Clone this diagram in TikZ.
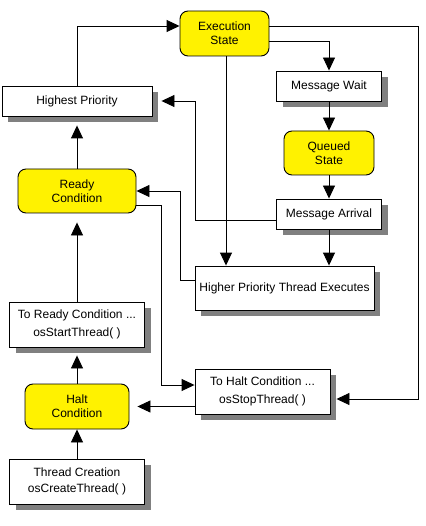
\documentclass[tikz,border=0pt]{standalone}
\usepackage{fontspec}
\setmainfont{Liberation Sans}
\usepackage{tikz}
\usetikzlibrary{arrows.meta,shadows}

\definecolor{shadowgray}{RGB}{128,128,128}
\tikzset{
  yellowbox/.style={draw, fill=yellow, rounded corners=8pt, align=center, inner sep=0pt, line width=0.9pt},
  whitebox/.style={draw, fill=white, align=center, inner sep=0pt, line width=0.9pt,
    drop shadow={shadow xshift=6pt, shadow yshift=-6pt, fill=shadowgray, opacity=1}},
  link/.style={-{Triangle[length=13pt,width=12pt]}, line width=0.9pt},
}

\begin{document}
\begin{tikzpicture}[x=1pt, y=-1pt, font=\fontsize{12}{14}\selectfont]
  \useasboundingbox (0,0) rectangle (425,526);
  % states
  \node[yellowbox, minimum width=89pt, minimum height=45pt] (exec) at (224.5,33.5) {Execution\\State};
  \node[yellowbox, minimum width=90pt, minimum height=44pt] (queued) at (329,153) {Queued\\State};
  \node[yellowbox, minimum width=118pt, minimum height=44pt] (ready) at (77,191) {Ready\\Condition};
  \node[yellowbox, minimum width=104pt, minimum height=45pt] (halt) at (77,406.5) {Halt\\Condition};
  % events
  \node[whitebox, minimum width=150pt, minimum height=30pt] (highest) at (77,101) {Highest Priority};
  \node[whitebox, minimum width=105pt, minimum height=30pt] (wait) at (329,86) {Message Wait};
  \node[whitebox, minimum width=105pt, minimum height=30pt] (arrival) at (329,214) {Message Arrival};
  \node[whitebox, minimum width=179pt, minimum height=44pt] (higher) at (284.5,288) {Higher Priority Thread Executes};
  \node[whitebox, minimum width=135pt, minimum height=45pt] (start) at (77,324.5) {To Ready Condition ...\\[4pt]osStartThread( )};
  \node[whitebox, minimum width=135pt, minimum height=45pt] (stop) at (262.5,391.5) {To Halt Condition ...\\[4pt]osStopThread( )};
  \node[whitebox, minimum width=135pt, minimum height=45pt] (create) at (77,481.5) {Thread Creation\\[2pt]osCreateThread( )};

  % transitions
  \draw[link] (highest.north) |- ([yshift=7.5pt]exec.west);
  \draw[link] ([yshift=7.5pt]exec.east) -- (418,26) |- ([xshift=6pt,yshift=-7.5pt]stop.east);
  \draw[link] ([yshift=-7.5pt]exec.east) -| (wait.north);
  \draw[link] (wait.south) -- (queued.north);
  \draw[link] (queued.south) -- (arrival.north);
  \draw[link] (arrival.south) -- (arrival.south |- higher.north);
  \draw[link] ([xshift=1.5pt]exec.south) -- ([xshift=1.5pt]exec.south |- higher.north);
  \draw[link] ([yshift=-6pt]arrival.west) -| (195,101) -- ([xshift=9pt]highest.east);
  \draw[link] ([yshift=8pt]higher.west) -| (180,191) -- (ready.east);
  \draw[link] ([yshift=-14pt]ready.east) -| (161,385) -- ([yshift=6.5pt]stop.west);
  \draw[link, shorten >=8pt] (stop.west |- halt.east) -- (halt.east);
  \draw[link, shorten >=9pt] (start.north) -- (ready.south);
  \draw[link, shorten >=8pt] (halt.north) -- (start.south);
  \draw[link] (create.north) -- (halt.south);
  \draw[link, shorten >=9pt] (ready.north) -- (highest.south);
\end{tikzpicture}
\end{document}
